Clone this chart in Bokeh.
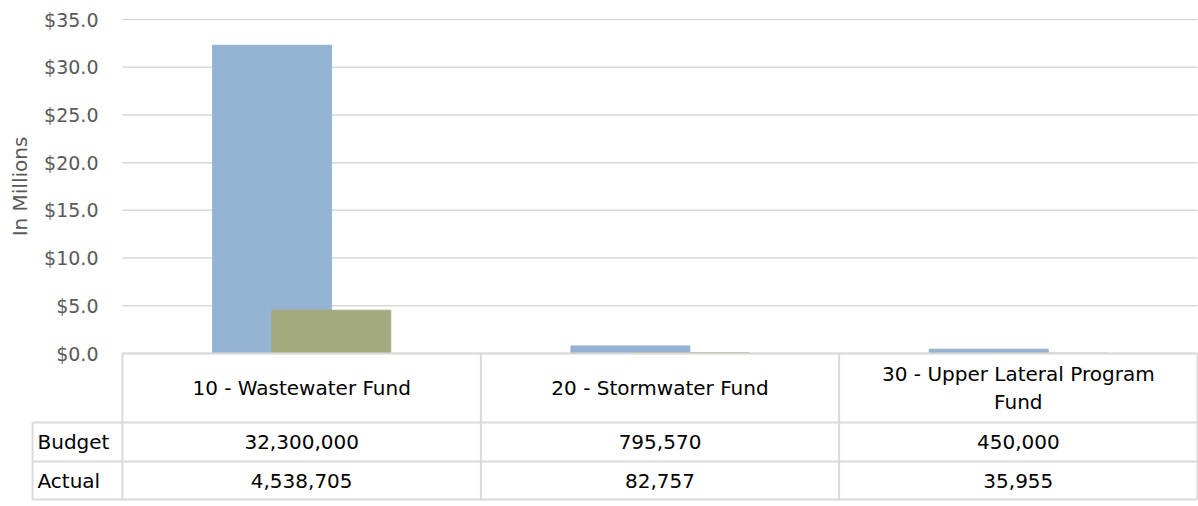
import math
import textwrap
from bokeh.plotting import figure
from bokeh.models import Range1d, FixedTicker, NumeralTickFormatter, ColumnDataSource
from bokeh.core.properties import value
from bokeh.embed import file_html
from bokeh.resources import INLINE

# ---- data ----
funds = ["10 - Wastewater Fund", "20 - Stormwater Fund", "30 - Upper Lateral Program Fund"]
budget = [32300000, 795570, 450000]
actual = [4538705, 82757, 35955]
series_names = ["Budget", "Actual"]
y_ticks = [0, 5, 10, 15, 20, 25, 30, 35]
y_title = "In Millions"

FONT = "DejaVu Sans"
BUDGET_COLOR = "#95B3D2"
ACTUAL_COLOR = "#A4AA80"
GRID = "#D9D9D9"
GRAY_TEXT = "#595959"

n = len(funds)
W, H = 1198, 506
PLOT_X0, PLOT_X1 = 122, 1197      # pixel columns of category area
TOP, BOTTOM = 18, 5
px_cat = (PLOT_X1 - PLOT_X0) / n
pxu = 334 / 35.0                    # pixels per million
y_top = 35 + 1 / pxu
y_bottom = -(H - BOTTOM - 353) / pxu

# table geometry in data units
y_head = -69 / pxu
y_mid = -108 / pxu
y_end = -146 / pxu
x_lab = -(PLOT_X0 - 32) / px_cat

p = figure(width=W, height=H, output_backend="svg", toolbar_location=None,
           x_range=Range1d(-PLOT_X0 / px_cat, n + 1 / px_cat),
           y_range=Range1d(y_bottom, y_top),
           min_border_left=0, min_border_right=0, min_border_top=TOP,
           min_border_bottom=BOTTOM)
p.outline_line_color = None
p.xaxis.visible = False
p.xgrid.visible = False
p.ygrid.visible = False

ax = p.yaxis[0]
ax.ticker = FixedTicker(ticks=y_ticks)
ax.formatter = NumeralTickFormatter(format="$0.0")
ax.axis_line_color = None
ax.major_tick_line_color = None
ax.minor_tick_line_color = None
ax.major_tick_out = 0
ax.major_tick_in = 0
ax.major_label_text_font = FONT
ax.major_label_text_font_size = "19px"
ax.major_label_text_color = GRAY_TEXT
ax.major_label_standoff = -98

# horizontal value gridlines over the category area
p.segment(x0=[0] * len(y_ticks), y0=y_ticks, x1=[n] * len(y_ticks), y1=y_ticks,
          line_color=GRID, line_width=1.5)

# bars
idx = list(range(n))
bar_w = 0.332
off = 0.0826
src = ColumnDataSource(dict(
    xb=[i + 0.5 - off for i in idx],
    xa=[i + 0.5 + off for i in idx],
    b=[v / 1e6 for v in budget],
    a=[v / 1e6 for v in actual],
))
p.vbar(x="xb", top="b", bottom=0, width=bar_w, source=src, color=BUDGET_COLOR)
p.vbar(x="xa", top="a", bottom=0, width=bar_w, source=src, color=ACTUAL_COLOR)

# y title
p.text(x=[-(PLOT_X0 - 19) / px_cat], y=[17.5], text=[y_title], angle=math.pi / 2,
       text_align="center", text_baseline="middle",
       text_font=value(FONT), text_font_size="20px", text_color=GRAY_TEXT)

# ---- data table ----
p.segment(x0=[0, x_lab, x_lab, x_lab], y0=[0, y_head, y_mid, y_end],
          x1=[n] * 4, y1=[0, y_head, y_mid, y_end], line_color=GRID, line_width=2)
vx = [x_lab] + idx + [n]
vy0 = [y_head] + [0] * (n + 1)
p.segment(x0=vx, y0=vy0, x1=vx, y1=[y_end] * len(vx), line_color=GRID, line_width=2)

p.text(x=[i + 0.5 for i in idx], y=[y_head / 2] * n,
       text=[textwrap.fill(f, 26) for f in funds],
       text_align="center", text_baseline="middle",
       text_font=value(FONT), text_font_size="20px", text_color="#000000",
       text_line_height=1.15)
row_y = [(y_head + y_mid) / 2, (y_mid + y_end) / 2]
p.text(x=[-(PLOT_X0 - 37) / px_cat] * 2, y=row_y, text=series_names,
       text_align="left", text_baseline="middle",
       text_font=value(FONT), text_font_size="20px", text_color="#000000")
p.text(x=[i + 0.5 for i in idx], y=[row_y[0]] * n, text=[f"{v:,}" for v in budget],
       text_align="center", text_baseline="middle",
       text_font=value(FONT), text_font_size="20px", text_color="#000000")
p.text(x=[i + 0.5 for i in idx], y=[row_y[1]] * n, text=[f"{v:,}" for v in actual],
       text_align="center", text_baseline="middle",
       text_font=value(FONT), text_font_size="20px", text_color="#000000")

open("out.html", "w").write(file_html(p, INLINE))
